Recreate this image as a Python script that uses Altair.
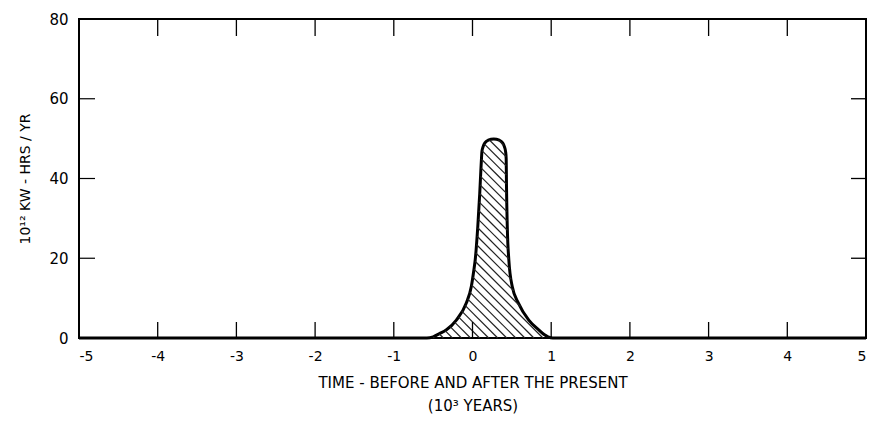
import altair as alt
import numpy as np
import pandas as pd

# ---- data ----
curve_x = [-5.0, -0.58, -0.5, -0.42, -0.335, -0.205, -0.08, -0.015, 0.017, 0.034,
           0.067, 0.092, 0.106, 0.114, 0.12, 0.135, 0.16, 0.2, 0.27, 0.34,
           0.38, 0.405, 0.42, 0.428, 0.432, 0.442, 0.462, 0.505, 0.585, 0.715,
           0.845, 0.915, 0.96, 1.02, 5.0]
curve_y = [0, 0, 0.3, 1.1, 2.0, 4.5, 8.7, 12.9, 17.0, 19.5,
           27.9, 36.3, 42.0, 45.0, 46.8, 48.0, 49.0, 49.6, 49.9, 49.6,
           49.0, 48.0, 46.8, 45.0, 38.0, 27.9, 19.5, 12.9, 8.7, 4.5,
           2.0, 0.8, 0.3, 0, 0]

x_ticks = [-5, -4, -3, -2, -1, 0, 1, 2, 3, 4, 5]
y_ticks = [0, 20, 40, 60, 80]
x_inner = [-4, -3, -2, -1, 0, 1, 2, 3, 4]
y_inner = [20, 40, 60]

x_title = ["TIME - BEFORE AND AFTER THE PRESENT", "(10\u00b3 YEARS)"]
y_title = "10\u00b9\u00b2 KW - HRS / YR"

# ---- layout ----
W, H = 787, 319
FONT = "DejaVu Sans"

curve = pd.DataFrame({"x": curve_x, "y": curve_y})

# hatch lines ("\" direction) clipped to the area under the curve
X = np.array(curve_x, dtype=float)
Y = np.array(curve_y, dtype=float)
slope = 19.7
step = 0.115
segs = []
for c in np.arange(-0.6, 3.7, step):
    xs = np.linspace(c - 2.6, c, 1500)
    ys = slope * (c - xs)
    fs = np.interp(xs, X, Y)
    inside = (ys <= fs) & (fs > 0)
    edges = np.flatnonzero(np.diff(np.concatenate([[0], inside.astype(int), [0]])))
    for a, b in zip(edges[::2], edges[1::2]):
        if b - a > 1:
            segs.append((xs[a], ys[a], xs[b - 1], ys[b - 1]))
hatch = pd.DataFrame(segs, columns=["hx", "hy", "hx2", "hy2"])

xscale = alt.Scale(domain=[-5, 5], nice=False, zero=False)
yscale = alt.Scale(domain=[0, 80], nice=False)

xaxis = alt.Axis(
    values=x_ticks,
    labelExpr="replace(datum.label, '\u2212', '-')",
    ticks=False,
    domain=False,
    grid=False,
    labelPadding=11,
    labelFontSize=14,
    title=x_title,
    titleFontSize=15,
    titleFontWeight="normal",
    titlePadding=12,
    titleLineHeight=23,
)
yaxis = alt.Axis(
    values=y_ticks,
    ticks=False,
    domain=False,
    grid=False,
    labelPadding=11,
    labelFontSize=15,
    title=y_title,
    titleFontSize=14,
    titleFontWeight="normal",
    titlePadding=16,
)

line_layer = alt.Chart(curve).mark_line(
    color="black", strokeWidth=3, interpolate="monotone"
).encode(
    x=alt.X("x:Q", scale=xscale, axis=xaxis),
    y=alt.Y("y:Q", scale=yscale, axis=yaxis),
)

hatch_layer = alt.Chart(hatch).mark_rule(color="#222222", strokeWidth=1.2).encode(
    x=alt.X("hx:Q", scale=xscale, axis=xaxis),
    y=alt.Y("hy:Q", scale=yscale, axis=yaxis),
    x2="hx2:Q",
    y2="hy2:Q",
)

tx = pd.DataFrame({"t": x_inner})
ty = pd.DataFrame({"t": y_inner})

bottom_ticks = alt.Chart(tx).mark_rule(color="black", strokeWidth=1.3).encode(
    x=alt.X("t:Q", scale=xscale, axis=xaxis), y=alt.value(H), y2=alt.value(H - 16)
)
top_ticks = alt.Chart(tx).mark_rule(color="black", strokeWidth=1.3).encode(
    x=alt.X("t:Q", scale=xscale, axis=xaxis), y=alt.value(0), y2=alt.value(17)
)
left_ticks = alt.Chart(ty).mark_rule(color="black", strokeWidth=1.2).encode(
    y=alt.Y("t:Q", scale=yscale, axis=yaxis), x=alt.value(0), x2=alt.value(16)
)
right_ticks = alt.Chart(ty).mark_rule(color="black", strokeWidth=1.3).encode(
    y=alt.Y("t:Q", scale=yscale, axis=yaxis), x=alt.value(W), x2=alt.value(W - 15)
)

chart = (
    alt.layer(line_layer, hatch_layer, bottom_ticks, top_ticks, left_ticks, right_ticks)
    .properties(
        width=W,
        height=H,
        autosize=alt.AutoSizeParams(type="none"),
        padding={"left": 79, "top": 19, "right": 5, "bottom": 83},
        background="white",
    )
    .configure_view(stroke="black", strokeWidth=2)
    .configure_axis(labelFont=FONT, titleFont=FONT, labelColor="black", titleColor="black")
)

chart.save("out.html", embed_options={"renderer": "svg", "actions": False})
